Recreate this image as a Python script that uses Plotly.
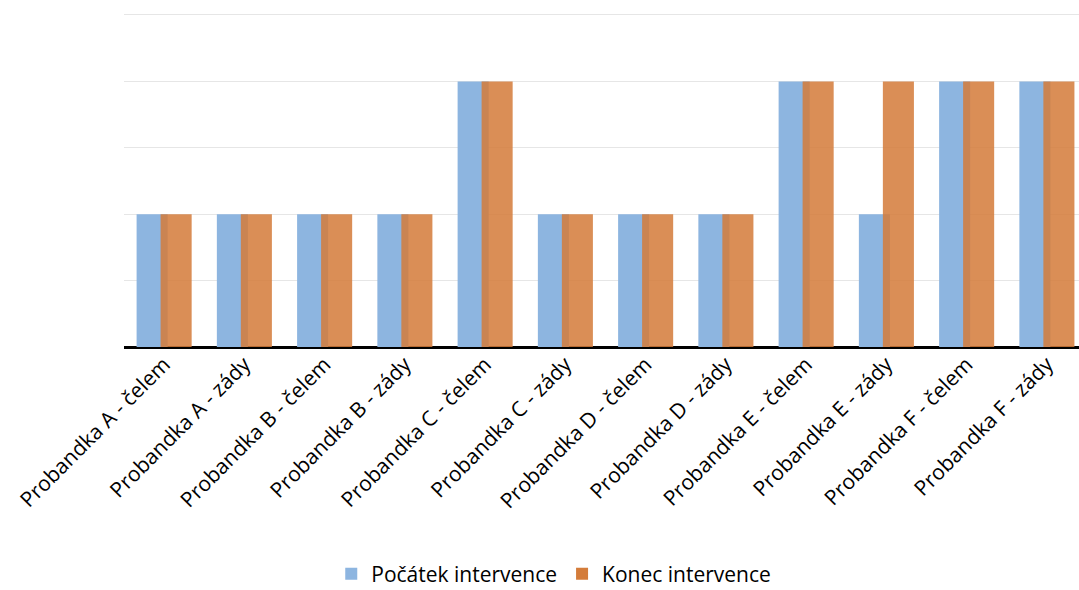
import plotly.graph_objects as go

categories = ["Probandka A - čelem", "Probandka A - zády", "Probandka B - čelem", "Probandka B - zády",
              "Probandka C - čelem", "Probandka C - zády", "Probandka D - čelem", "Probandka D - zády",
              "Probandka E - čelem", "Probandka E - zády", "Probandka F - čelem", "Probandka F - zády"]
pocatek = [2, 2, 2, 2, 4, 2, 2, 2, 4, 2, 4, 4]
konec = [2, 2, 2, 2, 4, 2, 2, 2, 4, 4, 4, 4]

fig = go.Figure()
fig.add_trace(go.Bar(x=categories, y=pocatek, name="Počátek intervence",
                     marker=dict(color="#8DB5E0", line=dict(width=0)),
                     offset=-0.343, width=0.387))
fig.add_trace(go.Bar(x=categories, y=konec, name="Konec intervence",
                     marker=dict(color="rgb(212,124,58)", opacity=0.86, line=dict(width=0)),
                     offset=-0.044, width=0.387))

fig.update_layout(
    width=1079, height=590,
    barmode="overlay",
    plot_bgcolor="white", paper_bgcolor="white",
    margin=dict(l=124, r=0, t=13, b=243, autoexpand=False),
    font=dict(family="Open Sans", size=17, color="#000000"),
    showlegend=True,
    legend=dict(orientation="h", x=0.45, xanchor="center", y=-0.68, yanchor="middle",
                font=dict(size=21), itemwidth=30, traceorder="normal",
                bgcolor="rgba(0,0,0,0)"),
    xaxis=dict(range=[-0.5, 11.4], tickangle=-45, showgrid=False, ticks="",
               showline=False, zeroline=False, tickfont=dict(size=21), automargin=False),
    yaxis=dict(range=[0, 5.03], dtick=1, showticklabels=False, showgrid=True,
               gridcolor="#E6E6E6", gridwidth=1, zeroline=True, zerolinecolor="#000000",
               zerolinewidth=3, showline=False, ticks="", automargin=False),
)

fig.write_html("out.html")
